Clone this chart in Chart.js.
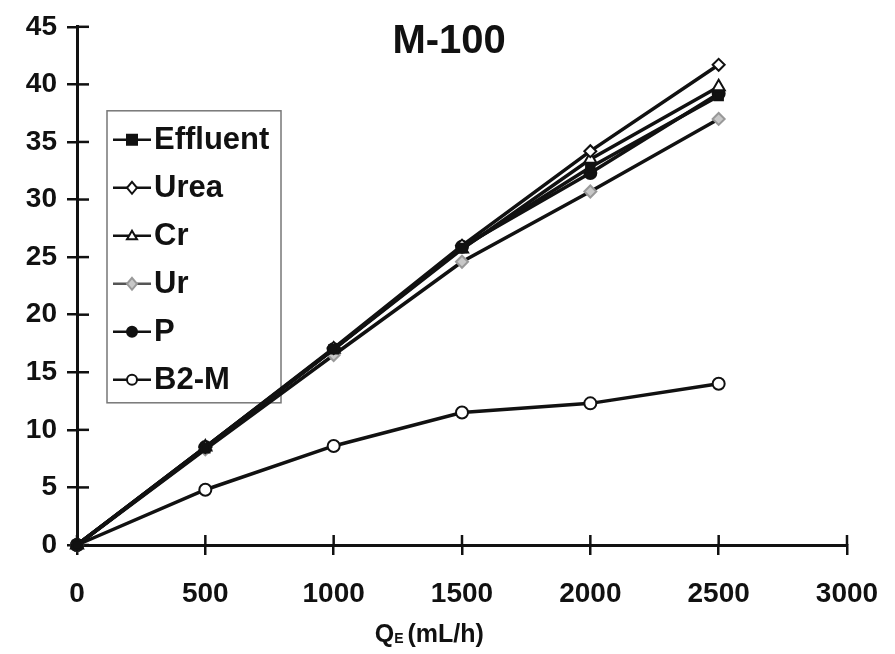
<!DOCTYPE html>
<html>
<head>
<meta charset="utf-8">
<script src="https://cdn.jsdelivr.net/npm/chart.js@4"></script>
<style>
  html, body { margin: 0; padding: 0; background: #fff; }
  #wrap { width: 895px; height: 654px; position: relative; }
</style>
</head>
<body>
<div id="wrap"><canvas id="chart" width="895" height="654"></canvas></div>
<script>
// ===== data =====
const flowRates = [0, 500, 1000, 1500, 2000, 2500];   // QE (mL/h)
const effluent = [0, 8.4, 17.0, 25.8, 32.8, 39.0];
const urea     = [0, 8.5, 17.1, 26.0, 34.2, 41.7];
const cr       = [0, 8.5, 17.0, 25.7, 33.5, 39.8];
const ur       = [0, 8.3, 16.5, 24.6, 30.7, 37.0];
const pData    = [0, 8.5, 17.0, 25.9, 32.3, 39.2];
const b2m      = [0, 4.8, 8.6, 11.5, 12.3, 14.0];
const xTicks = [0, 500, 1000, 1500, 2000, 2500, 3000];
const yTicks = [0, 5, 10, 15, 20, 25, 30, 35, 40, 45];

const FONT = "'Liberation Sans', Arial, sans-serif";

const toPoints = arr => arr.map((v, i) => ({ x: flowRates[i], y: v }));

const seriesStyle = [
  { label: 'Effluent', data: effluent, shape: 'rect',     fill: '#111', stroke: '#111', r: 6 },
  { label: 'Urea',     data: urea,     shape: 'rectRot',  fill: '#fff', stroke: '#111', r: 6 },
  { label: 'Cr',       data: cr,       shape: 'triangle', fill: '#fff', stroke: '#111', r: 7 },
  { label: 'Ur',       data: ur,       shape: 'rectRot',  fill: '#c8c8c8', stroke: '#999', r: 6 },
  { label: 'P',        data: pData,    shape: 'circle',   fill: '#111', stroke: '#111', r: 6 },
  { label: 'B2-M',     data: b2m,      shape: 'circle',   fill: '#fff', stroke: '#111', r: 6 }
];

const datasets = seriesStyle.map(s => ({
  label: s.label,
  data: toPoints(s.data),
  borderColor: '#111',
  borderWidth: 3.5,
  pointStyle: s.shape,
  pointRadius: s.r,
  pointBackgroundColor: s.fill,
  pointBorderColor: s.stroke,
  pointBorderWidth: 2,
  clip: false,
  tension: 0
}));

//===========marker drawing for legend=======================/
function drawMarker(ctx, shape, x, y, r, fill, stroke) {
  ctx.save();
  ctx.beginPath();
  if (shape === 'rect') {
    ctx.rect(x - r, y - r, 2 * r, 2 * r);
  } else if (shape === 'rectRot') {
    ctx.moveTo(x, y - r * 1.2);
    ctx.lineTo(x + r, y);
    ctx.lineTo(x, y + r * 1.2);
    ctx.lineTo(x - r, y);
    ctx.closePath();
  } else if (shape === 'triangle') {
    ctx.moveTo(x, y - r);
    ctx.lineTo(x + r, y + r * 0.7);
    ctx.lineTo(x - r, y + r * 0.7);
    ctx.closePath();
  } else {
    ctx.arc(x, y, r, 0, Math.PI * 2);
  }
  ctx.fillStyle = fill;
  ctx.fill();
  ctx.lineWidth = 2;
  ctx.strokeStyle = stroke;
  ctx.stroke();
  ctx.restore();
}

//===========extras: inner ticks, legend box, title, axis title=======================/
const extras = {
  id: 'extras',
  beforeDatasetsDraw(chart) {
    const { ctx, chartArea, scales } = chart;
    ctx.save();
    ctx.strokeStyle = '#111';
    ctx.lineWidth = 2.5;
    yTicks.forEach(v => {
      const py = scales.y.getPixelForValue(v);
      ctx.beginPath();
      ctx.moveTo(chartArea.left, py);
      ctx.lineTo(chartArea.left + 12, py);
      ctx.stroke();
    });
    xTicks.forEach(v => {
      const px = scales.x.getPixelForValue(v);
      ctx.beginPath();
      ctx.moveTo(px, chartArea.bottom);
      ctx.lineTo(px, chartArea.bottom - 10);
      ctx.stroke();
    });

    // legend (lines are drawn over it)
    const lx = chartArea.left + 30, ly = chartArea.top + 84;
    const lw = 174, lh = 292;
    ctx.strokeStyle = '#777';
    ctx.lineWidth = 1.5;
    ctx.strokeRect(lx, ly, lw, lh);
    seriesStyle.forEach((s, i) => {
      const cy = ly + 29 + i * 48;
      ctx.strokeStyle = s.label === 'Ur' ? '#555' : '#111';
      ctx.lineWidth = 2.5;
      ctx.beginPath();
      ctx.moveTo(lx + 6, cy);
      ctx.lineTo(lx + 44, cy);
      ctx.stroke();
      drawMarker(ctx, s.shape, lx + 25, cy, 5, s.fill, s.stroke);
      ctx.fillStyle = '#111';
      ctx.font = 'bold 31px ' + FONT;
      ctx.textAlign = 'left';
      ctx.textBaseline = 'middle';
      ctx.fillText(s.label, lx + 47, cy + 1);
    });
    ctx.restore();
  },
  afterDraw(chart) {
    const { ctx, chartArea, scales } = chart;
    ctx.save();

    // title
    ctx.fillStyle = '#111';
    ctx.font = 'bold 40px ' + FONT;
    ctx.textAlign = 'center';
    ctx.textBaseline = 'alphabetic';
    ctx.fillText('M-100', scales.x.getPixelForValue(1450), chartArea.top + 26);

    // x axis title with subscript
    const xt = scales.x.getPixelForValue(1160);
    const yb = chart.height - 12;
    ctx.textAlign = 'left';
    ctx.font = 'bold 25px ' + FONT;
    ctx.fillText('Q', xt, yb);
    let w = ctx.measureText('Q').width;
    ctx.font = 'bold 14px ' + FONT;
    ctx.fillText('E', xt + w, yb + 1);
    w += ctx.measureText('E').width + 4;
    ctx.font = 'bold 25px ' + FONT;
    ctx.fillText('(mL/h)', xt + w, yb);
    ctx.restore();
  }
};

const chart = document.getElementById('chart');

new Chart(chart, {
  type: 'line',
  data: { datasets: datasets },
  options: {
    responsive: false,
    animation: false,
    devicePixelRatio: 1,
    layout: { padding: { top: 22, right: 48, left: 0, bottom: 0 } },
    plugins: {
      legend: { display: false },
      title: { display: false },
      tooltip: { enabled: false }
    },
    scales: {
      x: {
        type: 'linear',
        min: 0,
        max: 3000,
        afterBuildTicks: s => { s.ticks = xTicks.map(v => ({ value: v })); },
        afterFit: s => { s.height = 109; s.paddingRight = 0; s.paddingLeft = 0; },
        border: { display: true, color: '#111', width: 3 },
        grid: { drawOnChartArea: false, drawTicks: true, tickLength: 10, color: '#111', lineWidth: 2.5 },
        ticks: {
          color: '#111',
          padding: 22,
          maxRotation: 0,
          callback: v => String(v),
          font: { family: FONT, size: 28, weight: 'bold' }
        }
      },
      y: {
        min: 0,
        max: 45,
        afterBuildTicks: s => { s.ticks = yTicks.map(v => ({ value: v })); },
        afterFit: s => { s.width = 77; },
        border: { display: true, color: '#111', width: 3 },
        grid: { drawOnChartArea: false, drawTicks: true, tickLength: 10, color: '#111', lineWidth: 2.5 },
        ticks: {
          color: '#111',
          padding: 10,
          callback: v => String(v),
          font: { family: FONT, size: 28, weight: 'bold' }
        }
      }
    }
  },
  plugins: [extras]
});
</script>
</body>
</html>
